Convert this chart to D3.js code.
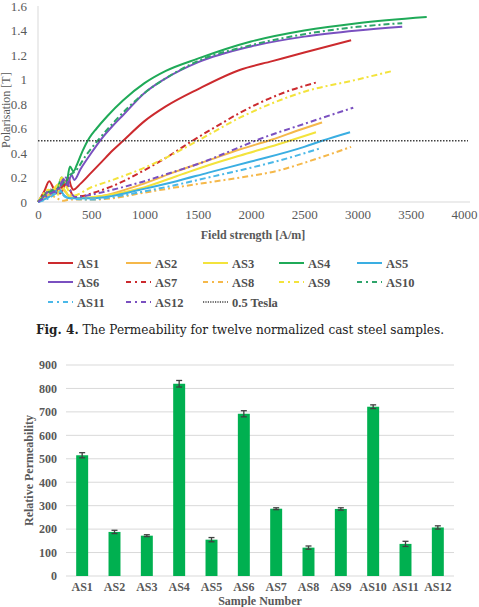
<!DOCTYPE html>
<html><head><meta charset="utf-8">
<script src="https://cdn.jsdelivr.net/npm/d3@7"></script>
<style>
html,body{margin:0;padding:0;background:#fff;}
svg{display:block;}
svg text{font-family:"Liberation Serif","Times New Roman","DejaVu Serif",serif;}
svg text.cap{font-family:"DejaVu Serif","Liberation Serif",serif;}
</style></head>
<body><svg id="c" width="479" height="607"></svg>
<script>
// ---------- Data: magnetisation curves (H [A/m], Polarisation [T]) ----------
const seriesNames = ["AS1","AS2","AS3","AS4","AS5","AS6","AS7","AS8","AS9","AS10","AS11","AS12"];
const seriesColors = ["#cc2a2e","#f5b84a","#f3e33c","#1faa58","#3aaee2","#7a50c0","#cc2a2e","#f5b84a","#f3e33c","#2ea46a","#4ab8e8","#7a50c0"];
const seriesDashed = [false,false,false,false,false,false,true,true,true,true,true,true];
const curveAS1 = [[0,0],[60,0.09],[105,0.17],[160,0.09],[210,0.07],[250,0.14],[285,0.2],[310,0.13],[330,0.1],[400,0.15],[500,0.24],[600,0.33],[700,0.42],[800,0.5],[1000,0.66],[1200,0.78],[1500,0.92],[1900,1.08],[2200,1.15],[2500,1.22],[2940,1.32]];
const curveAS2 = [[0,0],[100,0.06],[200,0.12],[260,0.08],[300,0.04],[400,0.03],[600,0.05],[958,0.14],[1300,0.25],[1600,0.34],[1900,0.43],[2200,0.51],[2460,0.59],[2667,0.65]];
const curveAS3 = [[0,0],[100,0.05],[200,0.15],[250,0.1],[300,0.04],[400,0.03],[600,0.05],[958,0.11],[1300,0.21],[1600,0.3],[1900,0.38],[2250,0.47],[2610,0.57]];
const curveAS4 = [[0,0],[60,0.06],[120,0.1],[170,0.08],[222,0.2],[263,0.14],[300,0.29],[332,0.25],[363,0.3],[420,0.42],[480,0.52],[550,0.6],[650,0.7],[800,0.83],[1000,0.97],[1200,1.07],[1500,1.17],[2000,1.31],[2500,1.4],[3000,1.46],[3650,1.51]];
const curveAS5 = [[0,0],[100,0.04],[200,0.1],[250,0.05],[300,0.03],[500,0.03],[700,0.05],[958,0.1],[1300,0.17],[1600,0.24],[2000,0.33],[2500,0.45],[2667,0.5],[2930,0.57]];
const curveAS6 = [[0,0],[60,0.05],[120,0.1],[180,0.07],[238,0.19],[270,0.13],[316,0.22],[340,0.18],[400,0.27],[500,0.4],[600,0.52],[700,0.62],[800,0.71],[1000,0.89],[1200,1.01],[1500,1.14],[2000,1.27],[2500,1.35],[3000,1.4],[3420,1.43]];
const curveAS7 = [[0,0],[100,0.08],[200,0.1],[260,0.15],[300,0.1],[330,0.05],[420,0.05],[500,0.07],[700,0.13],[1000,0.26],[1200,0.36],[1450,0.5],[1700,0.63],[1900,0.73],[2300,0.89],[2630,0.98]];
const curveAS8 = [[0,0],[100,0.06],[180,0.03],[230,0.01],[300,0.02],[500,0.02],[700,0.03],[958,0.07],[1300,0.12],[1600,0.16],[1900,0.2],[2272,0.26],[2500,0.32],[2940,0.45]];
const curveAS9 = [[0,0],[100,0.1],[180,0.05],[220,0.2],[270,0.12],[320,0.05],[500,0.12],[700,0.18],[1000,0.28],[1200,0.36],[1500,0.5],[1900,0.69],[2500,0.9],[3000,1.0],[3330,1.07]];
const curveAS10 = [[0,0],[100,0.08],[200,0.12],[260,0.18],[300,0.22],[350,0.25],[450,0.38],[560,0.5],[700,0.64],[1000,0.89],[1200,1.01],[1500,1.15],[2000,1.28],[2500,1.37],[3000,1.43],[3420,1.46]];
const curveAS11 = [[0,0],[100,0.03],[200,0.08],[260,0.04],[300,0.03],[500,0.02],[700,0.04],[958,0.08],[1300,0.14],[1600,0.2],[2000,0.28],[2272,0.34],[2657,0.44]];
const curveAS12 = [[0,0],[100,0.06],[200,0.12],[260,0.2],[300,0.1],[350,0.04],[500,0.06],[700,0.1],[1000,0.17],[1270,0.245],[1500,0.31],[1900,0.45],[2040,0.5],[2525,0.645],[2960,0.77]];
const allCurves = [curveAS1,curveAS2,curveAS3,curveAS4,curveAS5,curveAS6,curveAS7,curveAS8,curveAS9,curveAS10,curveAS11,curveAS12];
const teslaLevel = 0.5;
const topXTicks = [0,500,1000,1500,2000,2500,3000,3500,4000];
const topYTicks = [0,0.2,0.4,0.6,0.8,1,1.2,1.4,1.6];
const topYTickLabels = ["0","0.2","0.4","0.6","0.8","1","1.2","1.4","1.6"];

// ---------- Data: relative permeability bar chart ----------
const sampleNames = ["AS1","AS2","AS3","AS4","AS5","AS6","AS7","AS8","AS9","AS10","AS11","AS12"];
const permeability = [515,188,172,820,155,692,287,121,286,722,137,207];
const permError = [11,7,4,14,9,13,4,7,5,8,11,7];
const barYTicks = [0,100,200,300,400,500,600,700,800,900];

const svg = d3.select("#c");
const gray = "#595959";

// ================= TOP LINE CHART =================
const xT = d3.scaleLinear().domain([0,4000]).range([38,464]);
const yT = d3.scaleLinear().domain([0,1.6]).range([202,6]);

svg.append("line").attr("x1",xT(0)).attr("x2",xT(0)).attr("y1",yT(1.6)).attr("y2",yT(0))
  .attr("stroke","#d9d9d9").attr("stroke-width",1);
svg.append("line").attr("x1",xT(0)).attr("x2",470).attr("y1",yT(0)).attr("y2",yT(0))
  .attr("stroke","#d9d9d9").attr("stroke-width",1.2);

const yAxT = svg.append("g").attr("transform",`translate(${xT(0)},0)`)
  .call(d3.axisLeft(yT).tickValues(topYTicks).tickSize(0).tickPadding(11)
    .tickFormat((d,i)=>topYTickLabels[i]));
yAxT.select(".domain").remove();
yAxT.attr("font-family",null);
yAxT.selectAll("text").attr("fill",gray).style("font-size","13px");

const xAxT = svg.append("g").attr("transform",`translate(0,${yT(0)})`)
  .call(d3.axisBottom(xT).tickValues(topXTicks).tickSize(0).tickPadding(8).tickFormat(d3.format("d")));
xAxT.select(".domain").remove();
xAxT.attr("font-family",null);
xAxT.selectAll("text").attr("fill",gray).style("font-size","13px");

svg.append("text").attr("x",253).attr("y",239).attr("text-anchor","middle")
  .attr("fill",gray).style("font-size","12px").style("font-weight","bold").text("Field strength [A/m]");
svg.append("text").attr("transform",`translate(10,${yT(0.75)}) rotate(-90)`).attr("text-anchor","middle")
  .attr("fill",gray).style("font-size","12px").text("Polarisation [T]");

const line = d3.line().x(d=>xT(d[0])).y(d=>yT(d[1])).curve(d3.curveMonotoneX);
allCurves.forEach((c,i)=>{
  svg.append("path").datum(c).attr("d",line).attr("fill","none")
    .attr("stroke",seriesColors[i]).attr("stroke-width",2)
    .attr("stroke-dasharray",seriesDashed[i]?"6,3,2,3":null);
});
svg.append("line").attr("x1",xT(0)).attr("x2",468).attr("y1",yT(teslaLevel)).attr("y2",yT(teslaLevel))
  .attr("stroke","#404040").attr("stroke-width",1.5).attr("stroke-dasharray","1.5,1.5");

// Legend
const legendItems = seriesNames.map((n,i)=>({name:n,color:seriesColors[i],dash:seriesDashed[i]?"5,4,2,4":null,w:2}))
  .concat([{name:"0.5 Tesla",color:"#404040",dash:"1.2,1.2",w:1.3}]);
const legX = [48,126,203,279,357], legY = [263,282,302];
legendItems.forEach((it,i)=>{
  const cx = legX[i%5], cy = legY[Math.floor(i/5)];
  svg.append("line").attr("x1",cx).attr("x2",cx+25).attr("y1",cy).attr("y2",cy)
    .attr("stroke",it.color).attr("stroke-width",it.w).attr("stroke-dasharray",it.dash);
  svg.append("text").attr("x",cx+29).attr("y",cy+4.5).attr("fill","#505050")
    .style("font-size","12.5px").style("font-weight","bold").text(it.name);
});

// Caption
const cap = svg.append("text").attr("class","cap").attr("x",240).attr("y",334).attr("text-anchor","middle")
  .attr("fill","#222").style("font-size","12.1px");
cap.append("tspan").style("font-weight","bold").text("Fig. 4.");
cap.append("tspan").text(" The Permeability for twelve normalized cast steel samples.");

// ================= BOTTOM BAR CHART =================
const xB = d3.scaleBand().domain(sampleNames).range([66,454]).paddingInner(0.63).paddingOuter(0.315);
const yB = d3.scaleLinear().domain([0,900]).range([576,365]);

svg.append("g").selectAll("line").data(barYTicks).join("line")
  .attr("x1",66).attr("x2",454).attr("y1",d=>yB(d)).attr("y2",d=>yB(d))
  .attr("stroke","#d9d9d9").attr("stroke-width",1);

const yAxB = svg.append("g").attr("transform","translate(66,0)")
  .call(d3.axisLeft(yB).tickValues(barYTicks).tickSize(0).tickPadding(9));
yAxB.select(".domain").remove();
yAxB.attr("font-family",null);
yAxB.selectAll("text").attr("fill",gray).style("font-size","12px").style("font-weight","bold");

const xAxB = svg.append("g").attr("transform",`translate(0,${yB(0)})`)
  .call(d3.axisBottom(xB).tickSize(0).tickPadding(6));
xAxB.select(".domain").remove();
xAxB.attr("font-family",null);
xAxB.selectAll("text").attr("fill",gray).style("font-size","12px").style("font-weight","bold");

svg.append("g").selectAll("rect").data(sampleNames).join("rect")
  .attr("x",d=>xB(d)).attr("width",xB.bandwidth())
  .attr("y",(d,i)=>yB(permeability[i])).attr("height",(d,i)=>yB(0)-yB(permeability[i]))
  .attr("fill","#00b050");

const eb = svg.append("g").attr("stroke","#404040").attr("stroke-width",1.3);
sampleNames.forEach((d,i)=>{
  const cx = xB(d)+xB.bandwidth()/2;
  const y1 = yB(permeability[i]+permError[i]), y2 = yB(permeability[i]-permError[i]);
  eb.append("line").attr("x1",cx).attr("x2",cx).attr("y1",y1).attr("y2",y2);
  eb.append("line").attr("x1",cx-3).attr("x2",cx+3).attr("y1",y1).attr("y2",y1);
  eb.append("line").attr("x1",cx-3).attr("x2",cx+3).attr("y1",y2).attr("y2",y2);
});

svg.append("text").attr("x",260).attr("y",605).attr("text-anchor","middle")
  .attr("fill",gray).style("font-size","12px").style("font-weight","bold").text("Sample Number");
svg.append("text").attr("transform",`translate(33,${yB(450)}) rotate(-90)`).attr("text-anchor","middle")
  .attr("fill",gray).style("font-size","12px").style("font-weight","bold").text("Relative Permeability");
</script></body></html>
